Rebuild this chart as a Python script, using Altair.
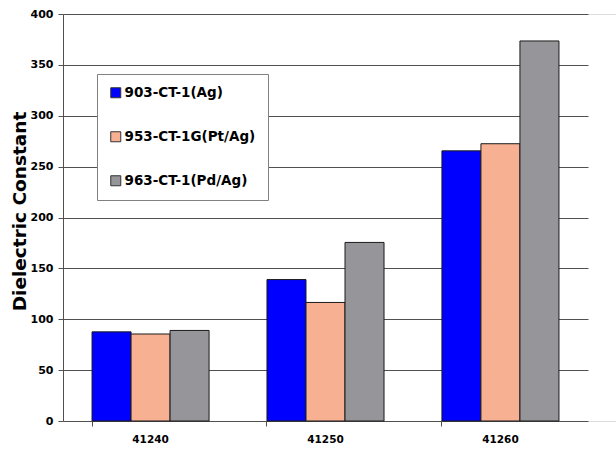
import altair as alt
import pandas as pd

# Grouped bars: dielectric constant per sample code for three electrode types
categories = ["41240", "41250", "41260"]
series = ["903-CT-1(Ag)", "953-CT-1G(Pt/Ag)", "963-CT-1(Pd/Ag)"]
ag = [87.6, 139.0, 265.5]
pt_ag = [85.5, 116.5, 272.5]
pd_ag = [89.0, 175.5, 373.5]
colors = ["#0000FF", "#F8B093", "#96969A"]
y_ticks = [0, 50, 100, 150, 200, 250, 300, 350, 400]

rows = []
for name, vals in zip(series, [ag, pt_ag, pd_ag]):
    for cat, v in zip(categories, vals):
        rows.append({"group": cat, "series": name, "value": v})
df = pd.DataFrame(rows)

FONT = "DejaVu Sans"
LINE = "#505050"

bars = alt.Chart(df).mark_bar(stroke="#1a1a1a", strokeWidth=1).encode(
    x=alt.X(
        "group:N",
        sort=categories,
        scale=alt.Scale(range=[0, 525], paddingInner=0.331, paddingOuter=0.166),
        axis=alt.Axis(
            title=None,
            labelAngle=0,
            domain=False,
            bandPosition=0,
            ticks=True,
            tickSize=5,
            tickColor=LINE,
            labelPadding=8,
            labelFont=FONT,
            labelFontSize=10.5,
            labelFontWeight="bold",
            labelColor="#000000",
            grid=False,
        ),
    ),
    xOffset=alt.XOffset(
        "series:N", sort=series, scale=alt.Scale(paddingInner=0, paddingOuter=0)
    ),
    y=alt.Y(
        "value:Q",
        scale=alt.Scale(domain=[0, 400], nice=False),
        axis=alt.Axis(
            title="Dielectric Constant",
            values=y_ticks,
            grid=True,
            gridColor=LINE,
            gridWidth=1,
            domainColor=LINE,
            tickColor=LINE,
            tickSize=5,
            labelPadding=5,
            labelFont=FONT,
            labelFontSize=11,
            labelFontWeight="bold",
            labelColor="#000000",
            titleFont=FONT,
            titleFontSize=18.5,
            titleFontWeight="bold",
            titleColor="#000000",
            titlePadding=1,
            titleY=197,
        ),
    ),
    color=alt.Color(
        "series:N",
        sort=series,
        scale=alt.Scale(domain=series, range=colors),
        legend=alt.Legend(
            title=None,
            orient="none",
            legendX=34,
            legendY=60,
            fillColor="#FFFFFF",
            strokeColor="#808080",
            padding=12,
            rowPadding=29,
            symbolType="square",
            symbolSize=100,
            symbolStrokeColor="#333333",
            symbolStrokeWidth=1,
            labelFont=FONT,
            labelFontSize=13.5,
            labelFontWeight="bold",
            labelColor="#000000",
            labelOffset=2,
        ),
    ),
)

chart = bars.properties(
    width=553,
    height=407,
    autosize=alt.AutoSizeParams(type="none"),
    padding={"left": 63, "top": 14, "right": 0, "bottom": 30},
).configure_view(stroke=None).configure(background="#FFFFFF")

chart.save("out.html", embed_options={"renderer": "svg", "actions": False})
